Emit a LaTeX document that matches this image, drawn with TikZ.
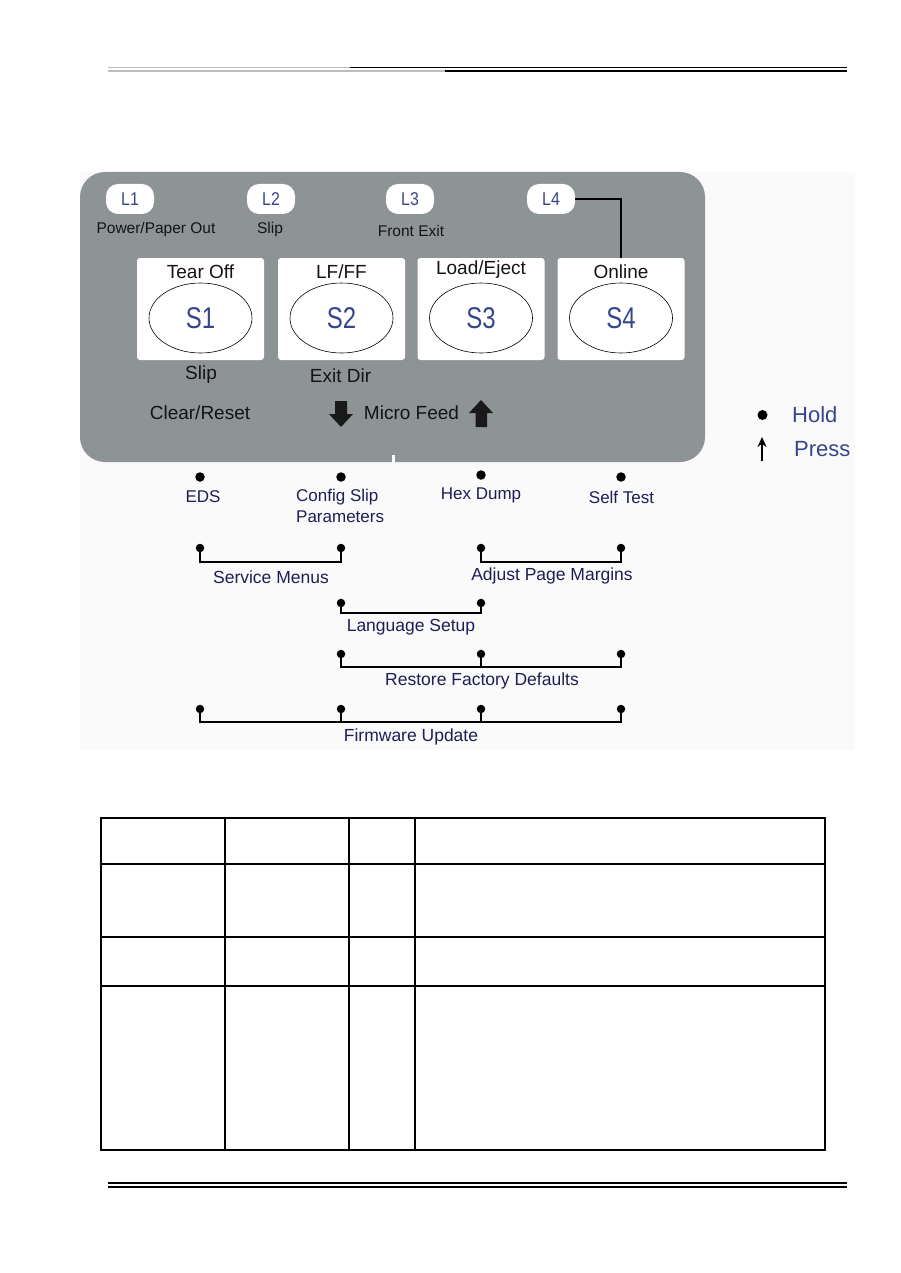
\documentclass[tikz,border=0pt]{standalone}
\usepackage{fontspec}
\setmainfont{Liberation Sans}
\usepackage{graphicx}
\usetikzlibrary{shapes.geometric,arrows.meta}
\definecolor{panel}{RGB}{142,147,150}
\definecolor{lblue}{RGB}{55,70,140}
\definecolor{navy}{RGB}{30,30,85}
\definecolor{ink}{RGB}{20,20,20}
\definecolor{rastbg}{RGB}{250,250,250}
\definecolor{fadegray}{RGB}{190,190,190}
\newcommand{\fsz}[1]{\fontsize{#1}{#1}\selectfont}
\begin{document}
\begin{tikzpicture}[x=1pt,y=-1pt,
  pill/.style={fill=white, rounded corners=12pt, minimum width=48pt, minimum height=30pt, inner sep=0pt, text=lblue, font=\fsz{18.5}},
  ltext/.style={inner sep=0pt, text=ink, font=\fsz{15.5}},
  keybox/.style={fill=white, rounded corners=3pt, minimum width=127pt, minimum height=102pt, inner sep=0pt},
  keytitle/.style={inner sep=0pt, text=ink, font=\fsz{19}},
  oval/.style={ellipse, draw=black, line width=0.6pt, fill=white, minimum width=103pt, minimum height=70pt, inner sep=0pt, text=lblue, font=\fsz{30}},
  ptext/.style={inner sep=0pt, text=ink, font=\fsz{19}},
  dot/.style={circle, fill=black, minimum size=9.5pt, inner sep=0pt},
  bdot/.style={circle, fill=black, minimum size=8.5pt, inner sep=0pt},
  utext/.style={inner sep=0pt, text=navy, font=\fsz{17}},
  btext/.style={inner sep=0pt, text=navy, font=\fsz{17.5}},
  conn/.style={line width=2pt, black},
  tline/.style={line width=1.5pt, black},
  blockarrow/.style={fill=black!90}
]
\useasboundingbox (0,0) rectangle (900,1273);
% header / footer rules
\draw[line width=1.7pt, fadegray] (108,67.5) -- (350,67.5);
\draw[line width=1.7pt, black] (350,67.5) -- (847,67.5);
\draw[line width=1.4pt, fadegray] (108,71.2) -- (445,71.2);
\draw[line width=1.4pt, black] (445,71.2) -- (847,71.2);
\draw[line width=1.8pt, black] (108,1183) -- (847,1183);
\draw[line width=1.4pt, black] (108,1187) -- (847,1187);
% raster background
\fill[rastbg] (80,172) rectangle (855,750);
% panel
\node[fill=panel, rounded corners=25pt, minimum width=625pt, minimum height=290pt, inner sep=0pt] (panel) at (392.5,317) {};
\fill[white] (391.5,455) rectangle (395,463);
% LEDs
\node[pill] (L1) at (130,199) {\scalebox{0.86}[1]{L1}};
\node[pill] (L2) at (271,199) {\scalebox{0.86}[1]{L2}};
\node[pill] (L3) at (410,199) {\scalebox{0.86}[1]{L3}};
\node[pill] (L4) at (551,199) {\scalebox{0.86}[1]{L4}};
\node[ltext] (l1t) at (156,229) {Power/Paper Out};
\node[ltext] (l2t) at (270,229) {Slip};
\node[ltext] (l3t) at (411,231) {Front Exit};
% keys
\node[keybox] (K1) at (200.5,309) {};
\node[keybox] (K2) at (341.5,309) {};
\node[keybox] (K3) at (481,309) {};
\node[keybox] (K4) at (621,309) {};
\draw[line width=1.5pt] (L4.east) -| (K4.north);
\node[keytitle] (t1) at (200.5,272) {Tear Off};
\node[keytitle] (t2) at (341.5,272) {LF/FF};
\node[keytitle] (t3) at (481,270) {Load/Eject};
\node[keytitle] (t4) at (621,272) {Online};
\node[oval] (S1) at (200.5,318) {\scalebox{0.8}[1]{S1}};
\node[oval] (S2) at (341.5,318) {\scalebox{0.8}[1]{S2}};
\node[oval] (S3) at (481,318) {\scalebox{0.8}[1]{S3}};
\node[oval] (S4) at (621,318) {\scalebox{0.8}[1]{S4}};
% panel texts
\node[ptext] (slip) at (201,375) {Slip};
\node[ptext] (exitdir) at (340.5,376) {Exit Dir};
\node[ptext] (clear) at (200,413) {Clear/Reset};
\node[ptext] (micro) at (411.5,413) {Micro Feed};
\fill[blockarrow] (335,401) -- (347,401) -- (347,414) -- (353,414) -- (341,427) -- (329,414) -- (335,414) -- cycle;
\fill[blockarrow] (481,400) -- (493,413) -- (487,413) -- (487,427) -- (475.5,427) -- (475.5,413) -- (469,413) -- cycle;
% hold dots under panel
\node[dot] (h1) at (200,477) {};
\node[dot] (h2) at (341,477) {};
\node[dot] (h3) at (481,475) {};
\node[dot] (h4) at (621,477) {};
\node[utext] (eds) at (203,497) {EDS};
\node[utext, align=left, anchor=west, font=\fontsize{17}{21}\selectfont] (cfg) at (296,505.5) {Config Slip\\Parameters};
\node[utext] (hex) at (481,495) {Hex Dump};
\node[utext] (self) at (621.5,497) {Self Test};
% legend
\node[circle, fill=black, minimum size=10pt, inner sep=0pt] (ldot) at (762.5,415) {};
\node[inner sep=0pt, text=lblue, font=\fsz{22}, anchor=west] (hold) at (792,415) {Hold};
\coordinate (pa0) at (762,461);
\coordinate (pa1) at (762,437);
\draw[line width=1.5pt, -{Stealth[length=10pt,width=9pt]}] (pa0) -- (pa1);
\node[inner sep=0pt, text=lblue, font=\fsz{22}, anchor=west] (press) at (794,449) {Press};
% Service Menus
\node[bdot] (sm1) at (200,548) {};
\node[bdot] (sm2) at (341,548) {};
\coordinate (sm1b) at (200,562);
\coordinate (sm2b) at (341,562);
\draw[conn] (sm1) -- (sm1b) -- (sm2b) -- (sm2);
\node[btext] (smt) at (271,577) {Service Menus};
% Adjust Page Margins
\node[bdot] (ap1) at (481,548) {};
\node[bdot] (ap2) at (621,548) {};
\coordinate (ap1b) at (481,562);
\coordinate (ap2b) at (621,562);
\draw[conn] (ap1) -- (ap1b) -- (ap2b) -- (ap2);
\node[btext] (apt) at (552,576) {Adjust Page Margins};
% Language Setup
\node[bdot] (ls1) at (341,603) {};
\node[bdot] (ls2) at (481,603) {};
\coordinate (ls1b) at (341,613);
\coordinate (ls2b) at (481,613);
\draw[conn] (ls1) -- (ls1b) -- (ls2b) -- (ls2);
\node[btext] (lst) at (411,627) {Language Setup};
% Restore Factory Defaults
\node[bdot] (rf1) at (341,654) {};
\node[bdot] (rf2) at (481,654) {};
\node[bdot] (rf3) at (621,654) {};
\coordinate (rf1b) at (341,667);
\coordinate (rf2b) at (481,667);
\coordinate (rf3b) at (621,667);
\draw[conn] (rf1) -- (rf1b) -- (rf3b) -- (rf3);
\draw[conn] (rf2) -- (rf2b);
\node[btext] (rft) at (482,681) {Restore Factory Defaults};
% Firmware Update
\node[bdot] (fw1) at (200,709) {};
\node[bdot] (fw2) at (341,709) {};
\node[bdot] (fw3) at (481,709) {};
\node[bdot] (fw4) at (621,709) {};
\coordinate (fw1b) at (200,722);
\coordinate (fw2b) at (341,722);
\coordinate (fw3b) at (481,722);
\coordinate (fw4b) at (621,722);
\draw[conn] (fw1) -- (fw1b) -- (fw4b) -- (fw4);
\draw[conn] (fw2) -- (fw2b);
\draw[conn] (fw3) -- (fw3b);
\node[btext] (fwt) at (411,737) {Firmware Update};
% table
\draw[tline] (101,818) rectangle (825,1150);
\draw[tline] (101,864) -- (825,864);
\draw[tline] (101,937) -- (825,937);
\draw[tline] (101,986) -- (825,986);
\draw[tline] (225,818) -- (225,1150);
\draw[tline] (349,818) -- (349,1150);
\draw[tline] (415,818) -- (415,1150);
\end{tikzpicture}
\end{document}
